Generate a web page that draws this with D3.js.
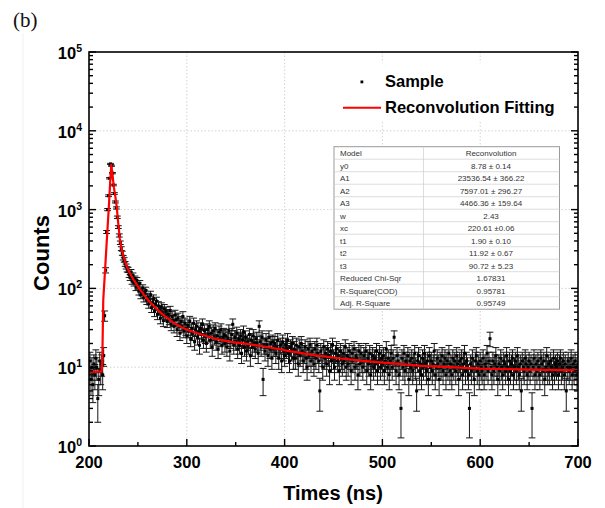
<!DOCTYPE html>
<html>
<head>
<meta charset="utf-8">
<script src="https://cdn.jsdelivr.net/npm/d3@7/dist/d3.min.js"></script>
<style>
  html, body { margin: 0; padding: 0; background: #fff; }
  svg { display: block; }
</style>
</head>
<body>
<svg id="chart" width="605" height="508"></svg>
<script>
// ---------------- DATA ----------------
// Measured decay (1 ns channels starting at 200 ns)
const timeStart = 200;
const timeStep = 1;
const counts = [
  9, 12, 7, 10, 6, 11, 8, 13, 10, 4,
  7, 12, 9, 11, 8, 14, 45, 170, 520, 1000,
  1500, 2500, 3800, 3600, 2900, 2050, 1600, 1250, 1050, 800,
  600, 470, 380, 320, 280, 245, 230, 205, 190, 175,
  172, 150, 138, 161, 124, 145, 118, 132, 104, 126,
  108, 92, 115, 83, 90, 101, 76, 86, 94, 71,
  78, 64, 70, 83, 57, 66, 74, 51, 62, 69,
  47, 60, 53, 42, 58, 49, 39, 55, 45, 51,
  38, 47, 41, 52, 35, 44, 39, 33, 46, 40,
  30, 42, 35, 27, 38, 33, 44, 29, 36, 31,
  25, 34, 29, 38, 23, 31, 27, 36, 21, 30,
  33, 24, 28, 19, 31, 26, 35, 22, 29, 25,
  20, 30, 26, 33, 22, 27, 18, 29, 24, 31,
  21, 25, 17, 28, 23, 30, 19, 24, 26, 20,
  25, 18, 23, 29, 16, 22, 26, 35, 19, 24,
  21, 27, 17, 23, 19, 25, 15, 22, 28, 18,
  24, 16, 21, 19, 26, 14, 22, 18, 25, 20,
  17, 23, 20, 15, 33, 21, 18, 24, 7, 19,
  16, 22, 19, 14, 24, 17, 20, 13, 21, 18,
  20, 15, 18, 22, 13, 17, 19, 12, 21, 16,
  14, 19, 17, 22, 15, 12, 18, 16, 20, 13,
  17, 13, 19, 15, 11, 18, 14, 20, 16, 12,
  15, 18, 13, 10, 17, 14, 19, 12, 16, 14,
  11, 17, 13, 19, 15, 12, 5, 16, 14, 10,
  18, 13, 15, 11, 17, 14, 9, 16, 12, 19,
  13, 10, 15, 17, 12, 14, 9, 16, 13, 11,
  15, 12, 18, 10, 14, 11, 16, 13, 9, 15,
  12, 17, 10, 14, 13, 8, 16, 11, 15, 12,
  10, 14, 12, 16, 9, 13, 11, 15, 8, 12,
  14, 10, 13, 11, 16, 9, 12, 15, 10, 13,
  11, 14, 9, 12, 17, 10, 13, 8, 12, 15,
  10, 13, 24, 11, 9, 14, 12, 8, 11, 3,
  13, 10, 15, 9, 12, 11, 14, 7, 12, 10,
  13, 9, 11, 15, 10, 5, 12, 14, 9, 11,
  8, 13, 10, 15, 11, 9, 12, 7, 14, 10,
  12, 9, 11, 16, 8, 10, 13, 11, 7, 12,
  10, 14, 9, 11, 13, 8, 12, 10, 15, 9,
  11, 8, 13, 10, 12, 9, 14, 11, 7, 12,
  10, 13, 8, 11, 15, 9, 12, 10, 8, 3,
  11, 9, 13, 10, 7, 12, 14, 9, 11, 8,
  12, 10, 9, 13, 8, 11, 10, 15, 9, 12,
  23, 10, 8, 12, 9, 11, 14, 10, 7, 11,
  9, 13, 10, 8, 12, 11, 9, 14, 10, 7,
  12, 9, 11, 13, 8, 10, 12, 9, 14, 10,
  8, 11, 5, 12, 10, 9, 13, 11, 8, 10,
  12, 9, 11, 3, 10, 13, 8, 11, 9, 12,
  10, 8, 13, 11, 9, 12, 7, 10, 14, 9,
  11, 9, 12, 10, 8, 13, 9, 11, 10, 12,
  8, 11, 13, 9, 10, 12, 8, 11, 5, 10,
  12, 9, 10, 13, 8, 11, 9, 12, 10, 8,
  11
];

// Reconvolution fitting curve
const fitTimes = [200, 212.8, 213.6, 214.6, 216, 217.5, 219, 220.5, 221.7, 222.8,
  224, 225.5, 227, 228.3, 230, 231.5, 233.4, 236, 238.5, 242, 245.3, 252, 260, 269,
  278, 286, 295, 303, 315, 330, 345, 365, 385, 405, 430, 455, 480, 510, 540, 570,
  600, 650, 700];
const fitValues = [8.8, 8.8, 12, 72, 140, 290, 590, 1200, 2300, 3700,
  2800, 1900, 1450, 1100, 650, 430, 310, 240, 190, 155, 130, 97, 72, 55,
  44, 37, 32, 29, 26, 22.8, 21, 19.5, 17.8, 16, 14.2, 13, 12, 11.2, 10.4, 10,
  9.6, 9.3, 9.1];

// Axis ticks
const xTicks = [200, 300, 400, 500, 600, 700];
const xMinorTicks = [250, 350, 450, 550, 650];
const yExponents = [0, 1, 2, 3, 4, 5];

// Fit parameter table
const tableParams = ["Model", "y0", "A1", "A2", "A3", "w", "xc", "t1", "t2", "t3",
  "Reduced Chi-Sqr", "R-Square(COD)", "Adj. R-Square"];
const tableValues = ["Reconvolution", "8.78 \u00b1 0.14", "23536.54 \u00b1 366.22",
  "7597.01 \u00b1 296.27", "4466.36 \u00b1 159.64", "2.43", "220.61 \u00b10.06",
  "1.90 \u00b1 0.10", "11.92 \u00b1 0.67", "90.72 \u00b1 5.23", "1.67831",
  "0.95781", "0.95749"];

const legendLabels = ["Sample", "Reconvolution Fitting"];

// ---------------- CHART ----------------
const svg = d3.select("#chart");
const L = 89, R = 578, T = 52, B = 446;
const x = d3.scaleLinear().domain([200, 700]).range([L, R]);
const y = d3.scaleLog().domain([1, 1e5]).range([B, T]);
const sans = "'Liberation Sans', Arial, Helvetica, sans-serif";

svg.append("rect").attr("width", 605).attr("height", 508).attr("fill", "#fff");
// faint page edge line
svg.append("line").attr("x1", 23).attr("x2", 23).attr("y1", 33).attr("y2", 508)
  .attr("stroke", "#f1f1f1").attr("stroke-width", 1);

svg.append("text").attr("x", 13).attr("y", 27)
  .attr("font-family", "'Liberation Serif', 'Times New Roman', serif")
  .attr("font-size", 21).attr("fill", "#111").text("(b)");

// grid
const grid = svg.append("g").attr("stroke", "#c8c8c8").attr("stroke-width", 0.8)
  .attr("stroke-dasharray", "1.5,2");
xTicks.slice(1, -1).forEach(t => grid.append("line")
  .attr("x1", x(t)).attr("x2", x(t)).attr("y1", T).attr("y2", B));
yExponents.slice(1, -1).forEach(e => grid.append("line")
  .attr("x1", L).attr("x2", R).attr("y1", y(Math.pow(10, e))).attr("y2", y(Math.pow(10, e))));

// clip
svg.append("clipPath").attr("id", "clip").append("rect")
  .attr("x", L).attr("y", T).attr("width", R - L).attr("height", B - T);

const data = counts.map((c, i) => ({ t: timeStart + i * timeStep, c: c }));
const plot = svg.append("g").attr("clip-path", "url(#clip)");

// error bars (Poisson, sqrt N)
const eb = plot.append("g").attr("stroke", "#151515").attr("stroke-width", 1).attr("fill", "none");
const cap = 3.4;
data.forEach(d => {
  const e = Math.sqrt(d.c);
  const lo = Math.max(d.c - e, 1.05), hi = d.c + e;
  const px = x(d.t);
  eb.append("line").attr("x1", px).attr("x2", px).attr("y1", y(lo)).attr("y2", y(hi));
  eb.append("line").attr("x1", px - cap).attr("x2", px + cap).attr("y1", y(lo)).attr("y2", y(lo));
  eb.append("line").attr("x1", px - cap).attr("x2", px + cap).attr("y1", y(hi)).attr("y2", y(hi));
});
// points
plot.append("g").selectAll("rect").data(data).join("rect")
  .attr("x", d => x(d.t) - 1.5).attr("y", d => y(d.c) - 1.5)
  .attr("width", 3).attr("height", 3).attr("fill", "#000");

// fit line
const fit = fitTimes.map((t, i) => ({ t: t, v: fitValues[i] }));
plot.append("path").datum(fit)
  .attr("d", d3.line().x(d => x(d.t)).y(d => y(d.v)))
  .attr("fill", "none").attr("stroke", "#ff0000").attr("stroke-width", 2.2)
  .attr("stroke-linejoin", "round");

// frame
svg.append("rect").attr("x", L).attr("y", T).attr("width", R - L).attr("height", B - T)
  .attr("fill", "none").attr("stroke", "#000").attr("stroke-width", 1.6);

// ticks
const tk = svg.append("g").attr("stroke", "#000").attr("stroke-width", 1.4);
xTicks.forEach(t => tk.append("line").attr("x1", x(t)).attr("x2", x(t)).attr("y1", B).attr("y2", B - 7));
xMinorTicks.forEach(t => tk.append("line").attr("x1", x(t)).attr("x2", x(t)).attr("y1", B).attr("y2", B - 4));
yExponents.forEach(e => {
  const v = Math.pow(10, e);
  [[L, 1], [R, -1]].forEach(([ax, dir]) => {
    tk.append("line").attr("x1", ax).attr("x2", ax + dir * 7).attr("y1", y(v)).attr("y2", y(v));
    if (e < 5) {
      for (let m = 2; m <= 9; m++) {
        tk.append("line").attr("x1", ax).attr("x2", ax + dir * 4)
          .attr("y1", y(m * v)).attr("y2", y(m * v));
      }
    }
  });
});

// tick labels
svg.append("g").selectAll("text").data(xTicks).join("text")
  .attr("x", d => x(d)).attr("y", 468).attr("text-anchor", "middle")
  .attr("font-family", sans).attr("font-weight", "bold").attr("font-size", 16.5)
  .attr("fill", "#000").text(d => d);

yExponents.forEach(e => {
  const tx = svg.append("text").attr("x", 82).attr("y", y(Math.pow(10, e)) + 7)
    .attr("text-anchor", "end").attr("font-family", sans).attr("font-weight", "bold")
    .attr("font-size", 16.5).attr("fill", "#000");
  tx.append("tspan").text("10");
  tx.append("tspan").attr("dy", -7).attr("font-size", 10.5).text(e);
});

// axis titles
svg.append("text").attr("x", 333).attr("y", 500).attr("text-anchor", "middle")
  .attr("font-family", sans).attr("font-weight", "bold").attr("font-size", 20)
  .attr("fill", "#000").text("Times (ns)");
svg.append("text").attr("transform", "translate(49,253) rotate(-90)")
  .attr("text-anchor", "middle").attr("font-family", sans).attr("font-weight", "bold")
  .attr("font-size", 22).attr("fill", "#000").text("Counts");

// legend
svg.append("rect").attr("x", 342).attr("y", 63).attr("width", 228).attr("height", 58).attr("fill", "#fff");
svg.append("rect").attr("x", 360.5).attr("y", 80.5).attr("width", 2.8).attr("height", 2.8).attr("fill", "#000");
svg.append("line").attr("x1", 343).attr("x2", 381).attr("y1", 107.7).attr("y2", 107.7)
  .attr("stroke", "#ff0000").attr("stroke-width", 2);
legendLabels.forEach((lab, i) => svg.append("text").attr("x", 385).attr("y", 87 + i * 26)
  .attr("font-family", sans).attr("font-weight", "bold").attr("font-size", 16.5)
  .attr("fill", "#000").text(lab));

// table
const tX = 334, tY = 146.7, tW = 225.5, rowH = 12.5, colX = 423.5;
const tH = rowH * tableParams.length;
const tb = svg.append("g");
tb.append("rect").attr("x", tX).attr("y", tY).attr("width", tW).attr("height", tH)
  .attr("fill", "#fff").attr("stroke", "#9a9a9a").attr("stroke-width", 1);
for (let i = 1; i < tableParams.length; i++) {
  tb.append("line").attr("x1", tX).attr("x2", tX + tW).attr("y1", tY + i * rowH).attr("y2", tY + i * rowH)
    .attr("stroke", "#cfcfcf").attr("stroke-width", 0.7);
}
tb.append("line").attr("x1", colX).attr("x2", colX).attr("y1", tY).attr("y2", tY + tH)
  .attr("stroke", "#cfcfcf").attr("stroke-width", 0.7);
tableParams.forEach((p, i) => {
  tb.append("text").attr("x", tX + 6).attr("y", tY + i * rowH + 9.5)
    .attr("font-family", sans).attr("font-size", 8).attr("fill", "#333").text(p);
  tb.append("text").attr("x", 491).attr("y", tY + i * rowH + 9.5).attr("text-anchor", "middle")
    .attr("font-family", sans).attr("font-size", 8).attr("fill", "#333").text(tableValues[i]);
});
</script>
</body>
</html>
